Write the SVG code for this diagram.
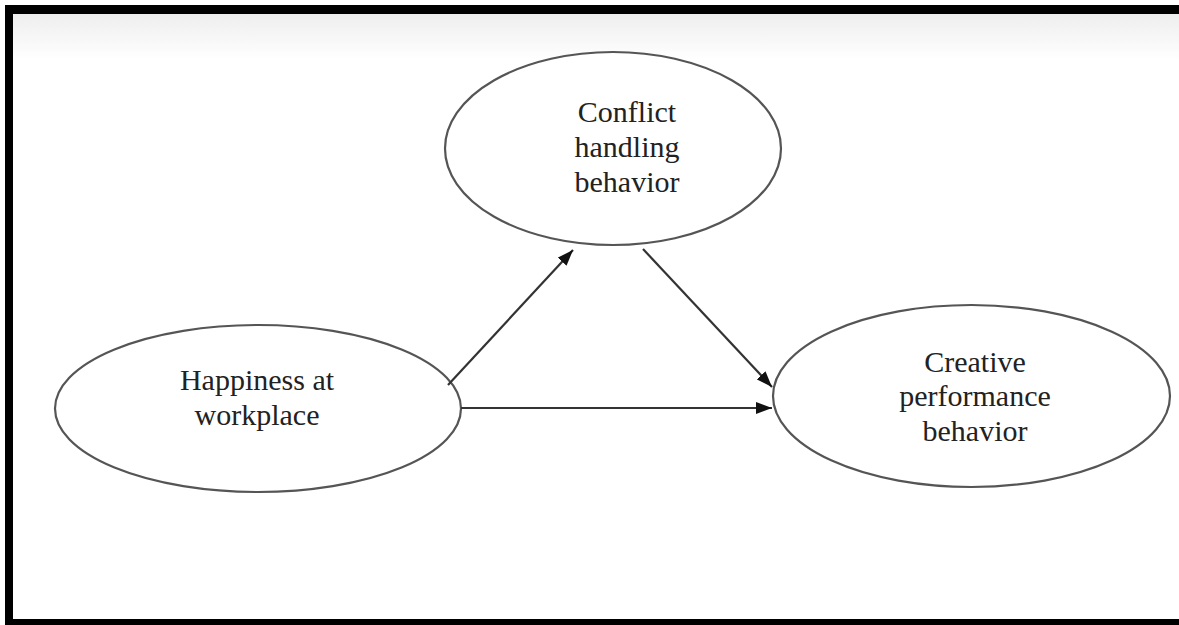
<svg xmlns="http://www.w3.org/2000/svg" width="1179" height="625" viewBox="0 0 1179 625">
<defs>
<linearGradient id="topShade" x1="0" y1="0" x2="0" y2="1">
<stop offset="0" stop-color="#eeeeee"/>
<stop offset="1" stop-color="#ffffff"/>
</linearGradient>
<marker id="arrow" viewBox="0 0 16 12" refX="16" refY="6" markerWidth="16" markerHeight="12" markerUnits="userSpaceOnUse" orient="auto">
<path d="M0,0 L16,6 L0,12 Z" fill="#111"/>
</marker>
<style>
.node ellipse { fill: #ffffff; stroke: #555555; stroke-width: 2.2; }
.node text { font-family: "Liberation Serif", "Times New Roman", serif; font-size: 30px; fill: #222222; text-anchor: middle; }
.edge { stroke: #333333; stroke-width: 2.2; fill: none; marker-end: url(#arrow); }
</style>
</defs>
<rect x="0" y="0" width="1179" height="625" fill="#ffffff"/>
<rect x="13" y="14" width="1166" height="46" fill="url(#topShade)"/>
<rect x="5" y="5" width="1174" height="9" fill="#000000"/>
<rect x="5" y="5" width="8" height="620" fill="#000000"/>
<rect x="5" y="619" width="1174" height="6" fill="#000000"/>
<g id="node-conflict" class="node">
<ellipse cx="613" cy="148.5" rx="168" ry="96.5"/>
<text x="627" y="122">Conflict</text>
<text x="627" y="157">handling</text>
<text x="627" y="192">behavior</text>
</g>
<g id="node-happiness" class="node">
<ellipse cx="258" cy="408.5" rx="203" ry="83.5"/>
<text x="257" y="390">Happiness at</text>
<text x="257" y="425">workplace</text>
</g>
<g id="node-creative" class="node">
<ellipse cx="971.5" cy="396" rx="198.5" ry="91"/>
<text x="975" y="372">Creative</text>
<text x="975" y="406">performance</text>
<text x="975" y="441">behavior</text>
</g>
<g id="connectors">
<line class="edge" x1="448" y1="385" x2="573" y2="250"/>
<line class="edge" x1="643" y1="249" x2="772" y2="387"/>
<line class="edge" x1="461" y1="408" x2="772" y2="408"/>
</g>
</svg>
